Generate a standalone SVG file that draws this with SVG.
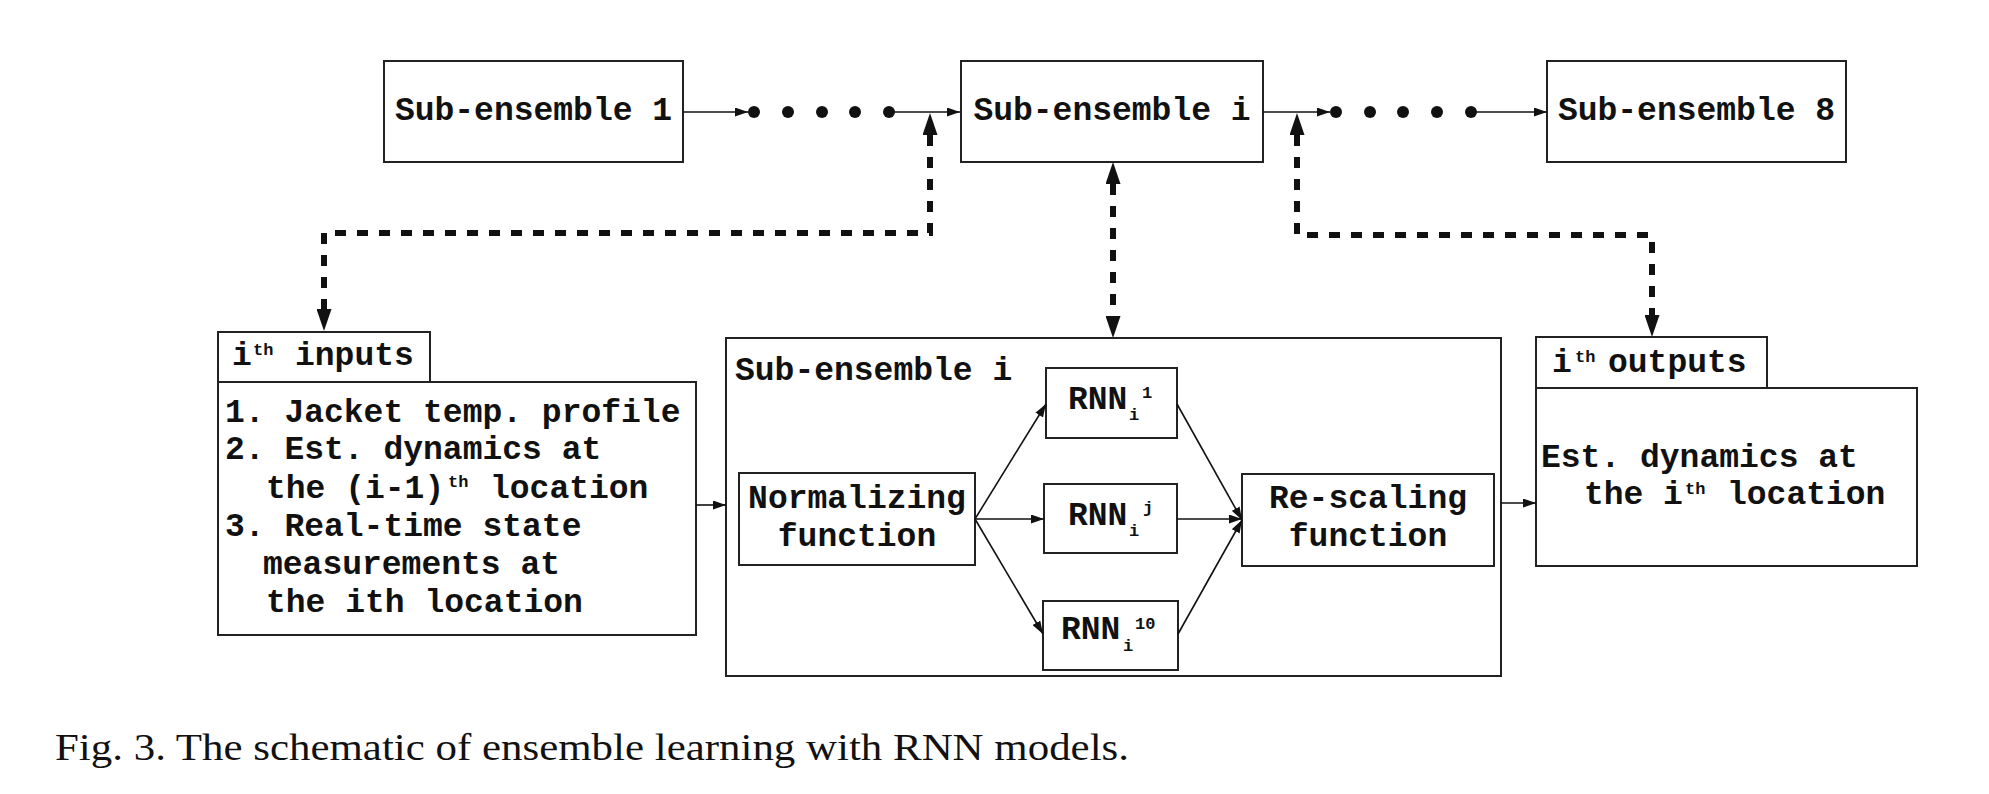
<svg xmlns="http://www.w3.org/2000/svg" width="1989" height="794" viewBox="0 0 1989 794">
<style>
.box{fill:#fff;stroke:#222;stroke-width:2}
.t{font-family:"Liberation Mono","Courier New",monospace;font-weight:bold;font-size:33px;fill:#111}
.s{font-family:"Liberation Mono","Courier New",monospace;font-weight:bold;font-size:17px;fill:#111}
.thin{fill:none;stroke:#111;stroke-width:1.6}
.dash{fill:none;stroke:#111;stroke-width:6;stroke-dasharray:11 11}
.cap{font-family:"Liberation Serif","Times New Roman",serif;font-size:37px;fill:#111}
</style>
<defs>
<marker id="big" viewBox="0 0 22 15" refX="0" refY="7.5" markerWidth="22" markerHeight="15" markerUnits="userSpaceOnUse" orient="auto-start-reverse"><path d="M0,0 L22,7.5 L0,15 z" fill="#111"/></marker>
<marker id="small" viewBox="0 0 13 9" refX="13" refY="4.5" markerWidth="13" markerHeight="9" markerUnits="userSpaceOnUse" orient="auto"><path d="M0,0 L13,4.5 L0,9 z" fill="#111"/></marker>
</defs>
<rect width="1989" height="794" fill="#fff"/>

<g id="sub-ensemble-1">
<rect class="box" x="384" y="61" width="299" height="101"/>
<text class="t" x="533.5" y="120" text-anchor="middle">Sub-ensemble 1</text>
</g>
<g id="sub-ensemble-i">
<rect class="box" x="961" y="61" width="302" height="101"/>
<text class="t" x="1112" y="120" text-anchor="middle">Sub-ensemble i</text>
</g>
<g id="sub-ensemble-8">
<rect class="box" x="1547" y="61" width="299" height="101"/>
<text class="t" x="1696.5" y="120" text-anchor="middle">Sub-ensemble 8</text>
</g>

<g id="inputs-tab">
<rect class="box" x="218" y="332" width="212" height="50"/>
<text class="t" x="232" y="365">i</text>
<text class="s" x="253" y="355">th</text>
<text class="t" x="295" y="365">inputs</text>
</g>
<g id="inputs">
<rect class="box" x="218" y="382" width="478" height="253"/>
<text class="t" x="225" y="422">1. Jacket temp. profile</text>
<text class="t" x="225" y="459">2. Est. dynamics at</text>
<text class="t" x="266" y="498">the (i-1)</text>
<text class="s" x="448" y="487">th</text>
<text class="t" x="490" y="498">location</text>
<text class="t" x="225" y="536">3. Real-time state</text>
<text class="t" x="263" y="574">measurements at</text>
<text class="t" x="266" y="612">the ith location</text>
</g>

<g id="sub-ensemble-i-detail">
<rect class="box" x="726" y="338" width="775" height="338"/>
<text class="t" x="735" y="380">Sub-ensemble i</text>
</g>
<g id="normalizing">
<rect class="box" x="739" y="473" width="236" height="92"/>
<text class="t" x="857" y="508" text-anchor="middle">Normalizing</text>
<text class="t" x="857" y="546" text-anchor="middle">function</text>
</g>
<g id="rnn-1">
<rect class="box" x="1046" y="368" width="131" height="70"/>
<text class="t" x="1068" y="409">RNN</text>
<text class="s" x="1129" y="420">i</text>
<text class="s" x="1142" y="398">1</text>
</g>
<g id="rnn-j">
<rect class="box" x="1044" y="484" width="133" height="69"/>
<text class="t" x="1068" y="525">RNN</text>
<text class="s" x="1129" y="536">i</text>
<text class="s" x="1143" y="513">j</text>
</g>
<g id="rnn-10">
<rect class="box" x="1043" y="601" width="135" height="69"/>
<text class="t" x="1061" y="639">RNN</text>
<text class="s" x="1123" y="651">i</text>
<text class="s" x="1135" y="629">10</text>
</g>
<g id="rescaling">
<rect class="box" x="1242" y="474" width="252" height="92"/>
<text class="t" x="1368" y="508" text-anchor="middle">Re-scaling</text>
<text class="t" x="1368" y="546" text-anchor="middle">function</text>
</g>

<g id="outputs-tab">
<rect class="box" x="1536" y="337" width="231" height="51"/>
<text class="t" x="1552" y="372">i</text>
<text class="s" x="1575" y="362">th</text>
<text class="t" x="1608" y="372">outputs</text>
</g>
<g id="outputs">
<rect class="box" x="1536" y="388" width="381" height="178"/>
<text class="t" x="1541" y="467">Est. dynamics at</text>
<text class="t" x="1584" y="504">the</text>
<text class="t" x="1663" y="504">i</text>
<text class="s" x="1685" y="494">th</text>
<text class="t" x="1727" y="504">location</text>
</g>

<g id="connectors">
<path class="thin" d="M683,112 H748" marker-end="url(#small)"/>
<path class="thin" d="M889,112 H960" marker-end="url(#small)"/>
<path class="thin" d="M1263,112 H1330" marker-end="url(#small)"/>
<path class="thin" d="M1471,112 H1547" marker-end="url(#small)"/>
<path class="thin" d="M696,505 H726" marker-end="url(#small)"/>
<path class="thin" d="M975,519 L1046,404" marker-end="url(#small)"/>
<path class="thin" d="M975,519 H1044" marker-end="url(#small)"/>
<path class="thin" d="M975,519 L1043,634" marker-end="url(#small)"/>
<path class="thin" d="M1177,404 L1242,520" marker-end="url(#small)"/>
<path class="thin" d="M1177,519 H1242" marker-end="url(#small)"/>
<path class="thin" d="M1178,634 L1242,520" marker-end="url(#small)"/>
<path class="thin" d="M1501,503 H1536" marker-end="url(#small)"/>
<path class="dash" d="M930,135 V233 H324 V309" marker-start="url(#big)" marker-end="url(#big)"/>
<path class="dash" d="M1113,184 V316" marker-start="url(#big)" marker-end="url(#big)"/>
<path class="dash" d="M1297,135 V235 H1652 V315" marker-start="url(#big)" marker-end="url(#big)"/>
</g>

<g id="dots-left" fill="#111">
<circle cx="754" cy="112" r="6"/><circle cx="788" cy="112" r="6"/><circle cx="822" cy="112" r="6"/><circle cx="855" cy="112" r="6"/><circle cx="889" cy="112" r="6"/>
</g>
<g id="dots-right" fill="#111">
<circle cx="1336" cy="112" r="6"/><circle cx="1370" cy="112" r="6"/><circle cx="1403" cy="112" r="6"/><circle cx="1437" cy="112" r="6"/><circle cx="1471" cy="112" r="6"/>
</g>

<text class="cap" x="55" y="760" textLength="1074" lengthAdjust="spacingAndGlyphs">Fig. 3. The schematic of ensemble learning with RNN models.</text>
</svg>
